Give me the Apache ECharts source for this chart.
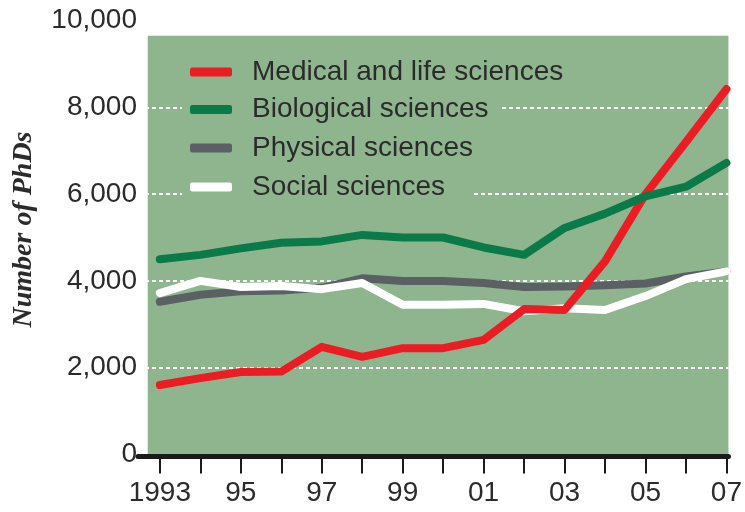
<!DOCTYPE html>
<html>
<head>
<meta charset="utf-8">
<script src="https://cdn.jsdelivr.net/npm/echarts@6/dist/echarts.min.js"></script>
<style>
html,body{margin:0;padding:0;background:#fff;}
#chart{width:745px;height:512px;}
</style>
</head>
<body>
<div id="chart"></div>
<script>
// ---- data ----
var years = [1993,1994,1995,1996,1997,1998,1999,2000,2001,2002,2003,2004,2005,2006,2007];
var medical    = [1600,1760,1900,1910,2480,2250,2450,2450,2640,3350,3330,4450,6000,7200,8420];
var biological = [4500,4600,4750,4880,4910,5060,5000,5000,4770,4600,5220,5550,5950,6170,6720];
var physical   = [3520,3680,3760,3780,3840,4060,4000,4000,3950,3860,3870,3900,3940,4100,4220];
var social     = [3720,4000,3860,3880,3810,3950,3450,3450,3470,3300,3370,3330,3650,4040,4220];
var seriesNames = ['Medical and life sciences','Biological sciences','Physical sciences','Social sciences'];
var labelYears = [1993,1995,1997,1999,2001,2003,2005,2007];
var tickLabels = ['1993','95','97','99','01','03','05','07'];
var yTicks = [0,2000,4000,6000,8000,10000];
var yTickLabels = ['0','2,000','4,000','6,000','8,000','10,000'];
var yAxisTitle = 'Number of PhDs';

function pairs(vals){ return years.map(function(y,i){ return [y, vals[i]]; }); }

var BG = '#8fb58f';
var TXT = '#2b2b2b';
var colors = ['#ec1c24','#0a7a48','#5a6064','#ffffff'];

var chart = echarts.init(document.getElementById('chart'), null, {renderer:'canvas'});

function legendFor(i, top, padRight){
  return {
    data: [seriesNames[i]],
    orient: 'vertical',
    left: 182, top: top,
    padding: [5, padRight, 5, 8],
    backgroundColor: BG,
    borderWidth: 0,
    itemWidth: 42, itemHeight: 9,
    icon: 'roundRect',
    selectedMode: false,
    z: 4,
    textStyle: {
      fontFamily: 'Liberation Sans', fontSize: 28, color: TXT,
      lineHeight: 28, padding: [0,0,0,15]
    }
  };
}

var option = {
  animation: false,
  backgroundColor: '#fff',
  grid: { left: 138, right: 15, top: 20.5, bottom: 57.5 },
  legend: [
    legendFor(0, 53, 12),
    legendFor(1, 90.5, 12),
    legendFor(2, 129, 12),
    legendFor(3, 168, 27)
  ],
  xAxis: {
    type: 'value',
    min: 1992.46, max: 2007.05,
    offset: 2,
    z: 3,
    splitLine: { show: false },
    axisLine: { show: true, onZero: false, lineStyle: { color: '#1a1a1a', width: 5 } },
    axisTick: { show: true, length: 17, customValues: years, lineStyle: { color: '#1a1a1a', width: 2 } },
    axisLabel: {
      customValues: labelYears,
      margin: 23,
      fontFamily: 'Liberation Sans', fontSize: 28, color: TXT,
      formatter: function(v){ var i = labelYears.indexOf(Math.round(v)); return i >= 0 ? tickLabels[i] : ''; }
    }
  },
  yAxis: {
    type: 'value',
    min: 0, max: 10000, interval: 2000,
    z: 3,
    axisLine: { show: false },
    axisTick: { show: false },
    axisLabel: {
      margin: 1,
      fontFamily: 'Liberation Sans', fontSize: 28, color: TXT,
      formatter: function(v){ var i = yTicks.indexOf(v); return i >= 0 ? yTickLabels[i] : ''; }
    },
    splitLine: { show: true, lineStyle: { color: '#ffffff', width: 2, type: [4,3] } },
    name: yAxisTitle,
    nameLocation: 'middle',
    nameRotate: 90,
    nameGap: 100,
    nameTextStyle: {
      fontFamily: 'Liberation Serif', fontStyle: 'italic', fontWeight: 'bold',
      fontSize: 28, color: TXT, padding: [0,0,0,16]
    }
  },
  series: [
    {
      type: 'line', name: '_bg', data: [], z: 1, silent: true,
      markArea: {
        silent: true,
        itemStyle: { color: BG, opacity: 1 },
        data: [[{ xAxis: 1992.7, yAxis: 0 }, { xAxis: 2007.05, yAxis: 9650 }]]
      }
    },
    { type:'line', name: seriesNames[2], data: pairs(physical), z: 5, showSymbol:false, symbol:'none',
      color: colors[2], lineStyle:{ width: 8, color: colors[2], cap:'round', join:'round' } },
    { type:'line', name: seriesNames[3], data: pairs(social), z: 6, showSymbol:false, symbol:'none',
      color: colors[3], lineStyle:{ width: 8, color: colors[3], cap:'round', join:'round' } },
    { type:'line', name: seriesNames[0], data: pairs(medical), z: 7, showSymbol:false, symbol:'none',
      color: colors[0], lineStyle:{ width: 8, color: colors[0], cap:'round', join:'round' } },
    { type:'line', name: seriesNames[1], data: pairs(biological), z: 8, showSymbol:false, symbol:'none',
      color: colors[1], lineStyle:{ width: 8, color: colors[1], cap:'round', join:'round' } }
  ]
};
chart.setOption(option);
</script>
</body>
</html>
